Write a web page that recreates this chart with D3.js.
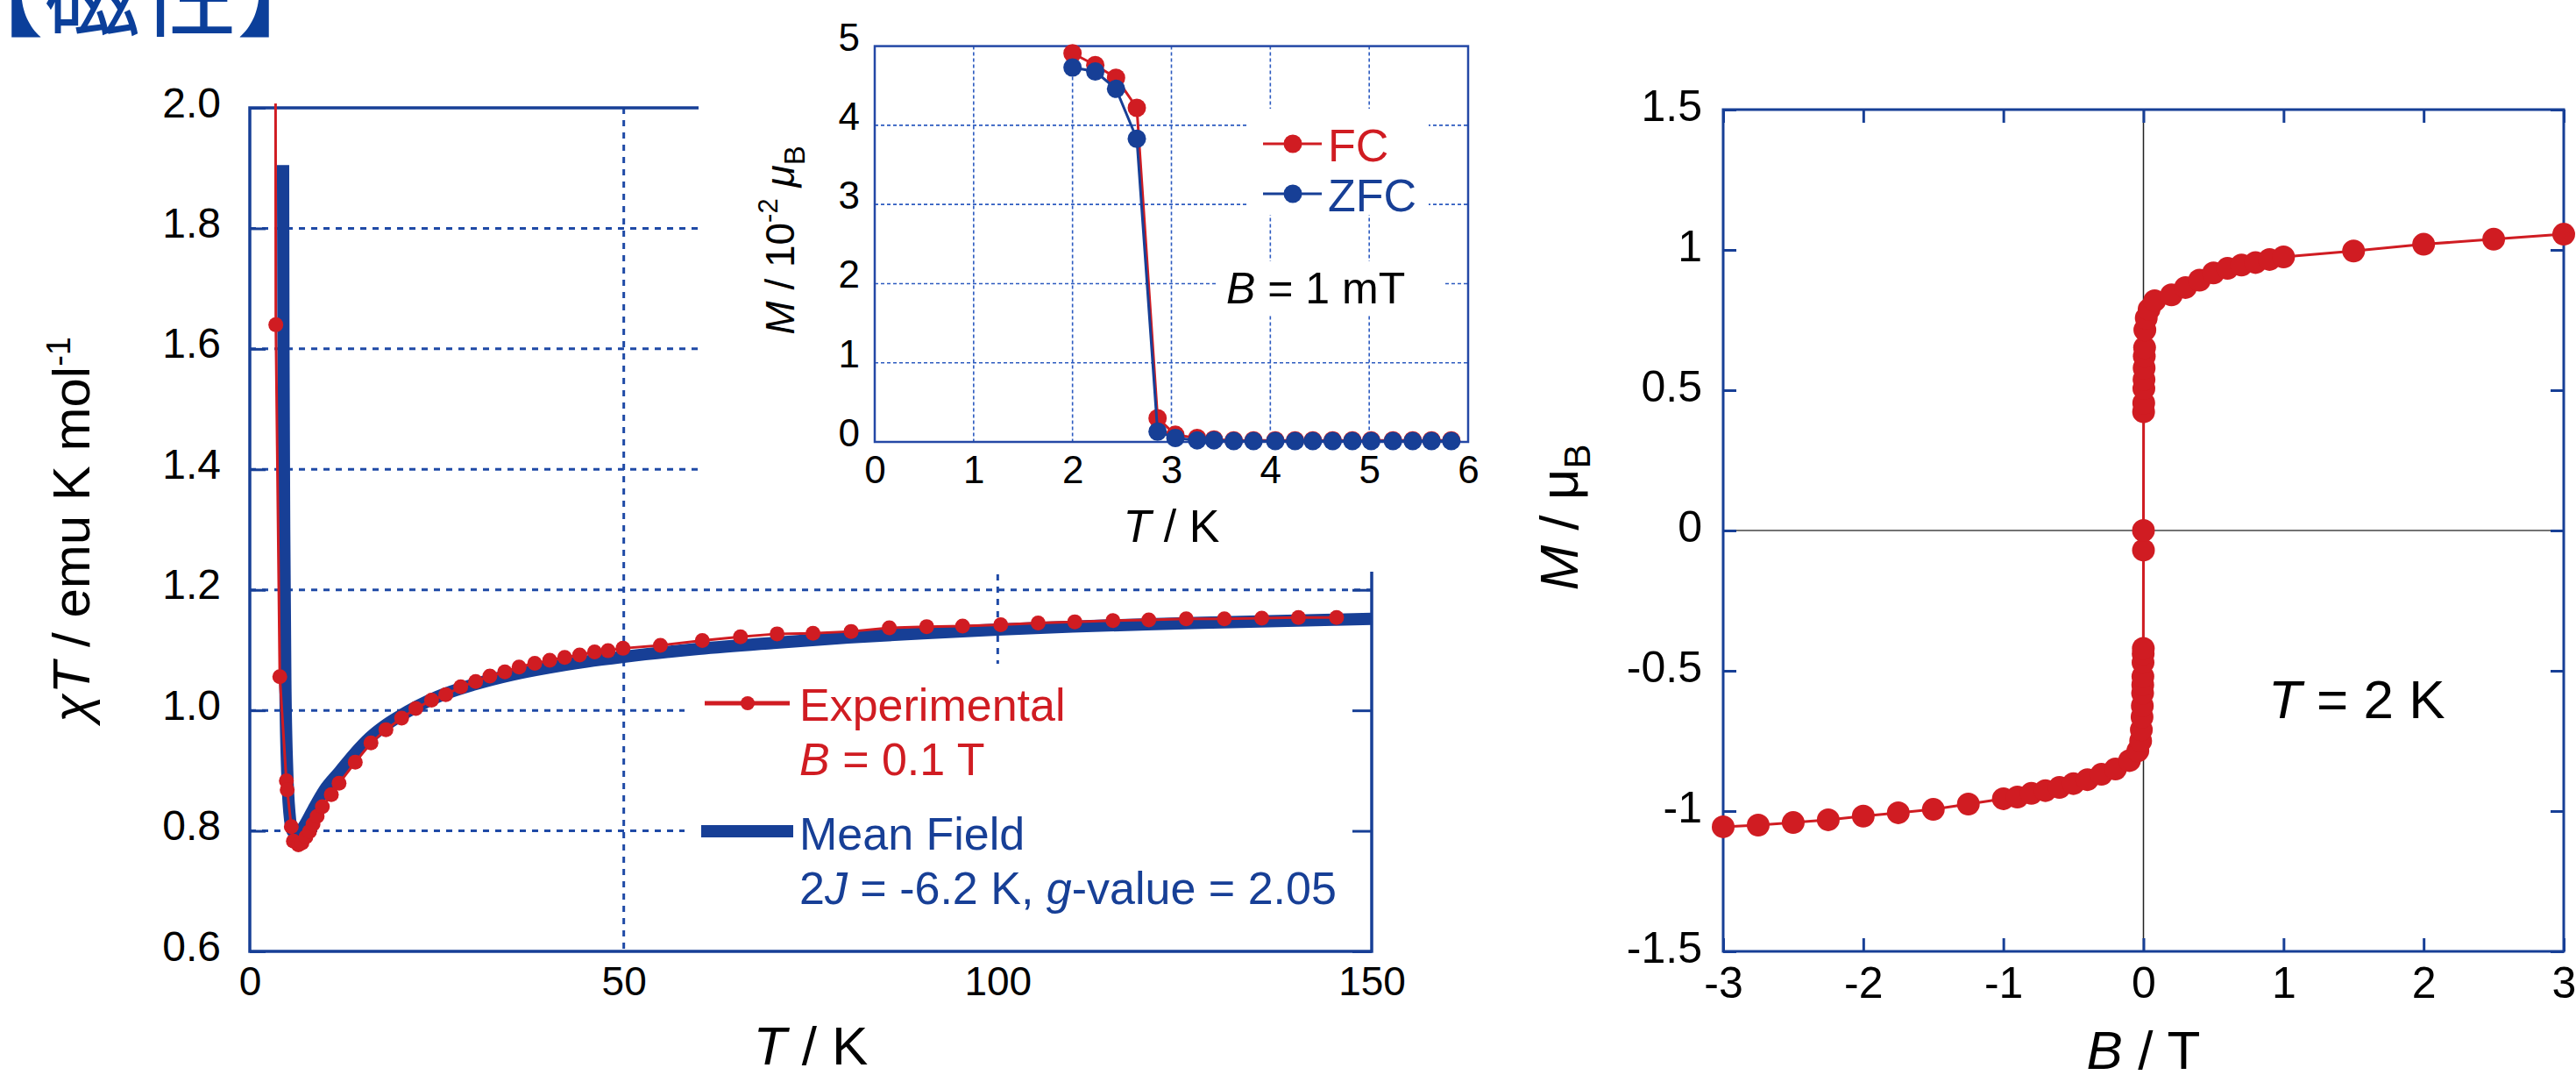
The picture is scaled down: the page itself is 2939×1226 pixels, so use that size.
<!DOCTYPE html>
<html>
<head>
<meta charset="utf-8">
<script src="https://cdn.jsdelivr.net/npm/d3@7"></script>
<style>
  body { margin: 0; background: #fff; }
  text { font-family: "Liberation Sans", Arial, sans-serif; }
</style>
</head>
<body>
<div id="chart"></div>
<script>
var RED = "#d01c22", BLUE = "#173f96", GRID = "#1f4aa6";

// chi*T vs T (main panel)
var expT = [3.48, 4.01, 4.89, 5.0, 5.55, 5.83, 6.5, 6.97, 7.5, 7.98, 8.45, 9.0, 9.7, 10.9, 11.93, 14.1, 16.2, 18.2, 20.3, 22.2,
  24.3, 26.2, 28.2, 30.2, 32.1, 34.1, 36.0, 38.1, 40.1, 42.1, 44.1, 46.1, 47.9, 49.9, 54.9, 60.5, 65.6, 70.5, 75.3, 80.4,
  85.5, 90.5, 95.3, 100.4, 105.4, 110.3, 115.4, 120.2, 125.2, 130.3, 135.3, 140.2, 145.3]
var expChiT = [1.64, 1.056, 0.883, 0.868, 0.807, 0.783, 0.777, 0.78, 0.79, 0.799, 0.811, 0.824, 0.84, 0.86, 0.879, 0.914, 0.946, 0.968, 0.987, 1.003,
  1.017, 1.026, 1.039, 1.048, 1.057, 1.064, 1.072, 1.078, 1.083, 1.088, 1.092, 1.097, 1.099, 1.103, 1.108, 1.116, 1.122, 1.127, 1.128, 1.131,
  1.137, 1.139, 1.140, 1.142, 1.145, 1.147, 1.149, 1.150, 1.152, 1.152, 1.153, 1.154, 1.154]
// line starts above the frame (clipped)
var expLeadT = [3.3], expLeadChiT = [3.4]

var fitT = [4.45, 4.5, 4.6, 4.75, 5.0, 5.3, 5.7, 6.2, 6.8, 7.5, 8.5, 10, 12, 14, 16, 18, 20, 25, 30, 35, 40, 45, 50,
  60, 70, 80, 90, 100, 110, 120, 130, 140, 150]
var fitChiT = [1.905, 1.6, 1.3, 1.05, 0.9, 0.83, 0.80, 0.795, 0.80, 0.813, 0.836, 0.868, 0.898, 0.928, 0.954, 0.974, 0.99, 1.022, 1.043, 1.059, 1.071, 1.081, 1.089,
  1.102, 1.112, 1.121, 1.128, 1.134, 1.139, 1.143, 1.146, 1.149, 1.152]

var mainYTicks = [0.6, 0.8, 1.0, 1.2, 1.4, 1.6, 1.8, 2.0]
var mainXTicks = [0, 50, 100, 150]

// FC / ZFC inset
var insetT = [2.0, 2.23, 2.44, 2.65, 2.86, 3.04, 3.26, 3.43, 3.63, 3.83, 4.05, 4.25, 4.43, 4.63, 4.83, 5.02, 5.24, 5.44, 5.63, 5.83]
var fcM = [4.91, 4.76, 4.6, 4.22, 0.30, 0.09, 0.05, 0.03, 0.02, 0.02, 0.02, 0.02, 0.02, 0.02, 0.02, 0.02, 0.02, 0.02, 0.02, 0.02]
var zfcM = [4.73, 4.68, 4.46, 3.83, 0.13, 0.05, 0.02, 0.02, 0.01, 0.01, 0.01, 0.01, 0.01, 0.01, 0.01, 0.01, 0.01, 0.01, 0.01, 0.01]
var insetXTicks = [0, 1, 2, 3, 4, 5, 6]
var insetYTicks = [0, 1, 2, 3, 4, 5]

// M vs B at 2 K
var fieldB = [-3, -2.75, -2.5, -2.25, -2, -1.75, -1.5, -1.25, -1, -0.9, -0.8, -0.7, -0.6, -0.5, -0.4, -0.3, -0.2, -0.1,
  -0.04, -0.02, -0.015, -0.01, -0.008, -0.006, -0.005, -0.004, -0.003, -0.002, -0.001, 0, 0,
  0.001, 0.002, 0.003, 0.004, 0.005, 0.006, 0.008, 0.01, 0.02, 0.04, 0.08, 0.2, 0.3, 0.4, 0.5, 0.6, 0.7, 0.8, 0.9, 1.0, 1.5, 2, 2.5, 3]
var magM = [-1.056, -1.05, -1.041, -1.031, -1.018, -1.006, -0.994, -0.975, -0.956, -0.95, -0.937, -0.927, -0.916, -0.902, -0.888, -0.869, -0.85, -0.82,
  -0.785, -0.75, -0.71, -0.665, -0.625, -0.58, -0.55, -0.52, -0.47, -0.44, -0.42, -0.07, 0.0,
  0.423, 0.454, 0.506, 0.538, 0.579, 0.621, 0.652, 0.715, 0.757, 0.788, 0.819, 0.84, 0.866, 0.892, 0.918, 0.934, 0.946, 0.955, 0.966, 0.975, 0.996, 1.02, 1.038, 1.056]
var rightXTicks = [-3, -2, -1, 0, 1, 2, 3]
var rightYTicks = [-1.5, -1, -0.5, 0, 0.5, 1, 1.5]

const svg = d3.select("#chart").append("svg")
  .attr("width", 2939)
  .attr("height", 1226)

function zip(a, b) { return a.map(function(v, i) { return [v, b[i]] }) }

// styling for d3 axes
function styleAxis(g, size) {
  g.attr("font-family", null).attr("font-size", null)
  g.select(".domain").remove()
  g.selectAll(".tick text").style("font-size", size + "px").attr("fill", "#000")
  g.selectAll(".tick line").attr("stroke", BLUE).attr("stroke-width", 3)
}

// ---------------- main panel ----------------
var x = d3.scaleLinear().domain([0, 150]).range([285, 1565])
var y = d3.scaleLinear().domain([0.6, 2.0]).range([1085, 123])

// gridlines
svg.append("g").selectAll("line")
  .data(mainYTicks.slice(1, -1))
  .enter().append("line")
  .attr("x1", x(0)).attr("x2", x(150))
  .attr("y1", function(d) { return y(d) }).attr("y2", function(d) { return y(d) })
  .attr("stroke", GRID).attr("stroke-width", 3).attr("stroke-dasharray", "7,7")

svg.append("g").selectAll("line")
  .data([50, 100])
  .enter().append("line")
  .attr("x1", function(d) { return x(d) }).attr("x2", function(d) { return x(d) })
  .attr("y1", y(2.0)).attr("y2", y(0.6))
  .attr("stroke", GRID).attr("stroke-width", 3).attr("stroke-dasharray", "7,7")

// white box behind the legend
svg.append("rect").attr("x", 781).attr("y", 757).attr("width", x(150) - 781).attr("height", y(0.6) - 757).attr("fill", "#fff")

svg.append("g")
  .attr("transform", "translate(" + x(0) + ",0)")
  .call(d3.axisLeft(y).tickValues(mainYTicks).tickSize(-18).tickPadding(33).tickFormat(d3.format(".1f")))
  .call(styleAxis, 48)
  .selectAll(".tick text").attr("dy", "0.21em")

svg.append("g")
  .attr("transform", "translate(" + x(150) + ",0)")
  .call(d3.axisRight(y).tickValues(mainYTicks).tickSize(-22).tickFormat(""))
  .call(styleAxis, 48)

svg.append("g")
  .attr("transform", "translate(0," + y(0.6) + ")")
  .call(d3.axisBottom(x).tickValues(mainXTicks).tickSize(0).tickPadding(17))
  .call(styleAxis, 46)

// frame
svg.append("path")
  .attr("d", "M" + x(0) + "," + y(2.0) + "V" + y(0.6) + "H" + x(150) + "V" + y(2.0) + "Z")
  .attr("fill", "none").attr("stroke", BLUE).attr("stroke-width", 3.5)

svg.append("clipPath").attr("id", "clipMain")
  .append("rect").attr("x", x(0)).attr("y", y(2.0) - 5).attr("width", x(150) - x(0) + 10).attr("height", y(0.6) - y(2.0) + 5)

var plotMain = svg.append("g").attr("clip-path", "url(#clipMain)")

var lineMain = d3.line().x(function(d) { return x(d[0]) }).y(function(d) { return y(d[1]) })

plotMain.append("path")
  .datum(zip(fitT, fitChiT))
  .attr("d", d3.line().curve(d3.curveMonotoneX).x(function(d) { return x(d[0]) }).y(function(d) { return y(d[1]) }))
  .attr("fill", "none").attr("stroke", BLUE).attr("stroke-width", 14)

plotMain.append("path")
  .datum(zip(expLeadT, expLeadChiT).concat(zip(expT, expChiT)))
  .attr("d", lineMain)
  .attr("fill", "none").attr("stroke", RED).attr("stroke-width", 3)

plotMain.selectAll("circle")
  .data(zip(expT, expChiT))
  .enter().append("circle")
  .attr("cx", function(d) { return x(d[0]) })
  .attr("cy", function(d) { return y(d[1]) })
  .attr("r", 8.5)
  .attr("fill", RED)

// axis titles
svg.append("text")
  .attr("x", (x(0) + x(150)) / 2).attr("y", 1214)
  .attr("text-anchor", "middle").style("font-size", "62px")
  .html('<tspan font-style="italic">T</tspan> / K')

svg.append("text")
  .attr("transform", "translate(102," + (y(0.6) + y(2.0)) / 2 + ") rotate(-90)")
  .attr("text-anchor", "middle").style("font-size", "60px")
  .html('<tspan font-style="italic">χT</tspan> / emu K mol<tspan dy="-22" font-size="38">-1</tspan>')

// legend
var leg = svg.append("g")
leg.append("line").attr("x1", 804).attr("x2", 901).attr("y1", 802).attr("y2", 802).attr("stroke", RED).attr("stroke-width", 5)
leg.append("circle").attr("cx", 853).attr("cy", 802).attr("r", 8).attr("fill", RED)
leg.append("line").attr("x1", 800).attr("x2", 905).attr("y1", 948).attr("y2", 948).attr("stroke", BLUE).attr("stroke-width", 14)
leg.append("text").attr("x", 912).attr("y", 822).attr("fill", RED).style("font-size", "52px").text("Experimental")
leg.append("text").attr("x", 912).attr("y", 884).attr("fill", RED).style("font-size", "52px")
  .html('<tspan font-style="italic">B</tspan> = 0.1 T')
leg.append("text").attr("x", 912).attr("y", 969).attr("fill", BLUE).style("font-size", "52px").text("Mean Field")
leg.append("text").attr("x", 912).attr("y", 1031).attr("fill", BLUE).style("font-size", "52px")
  .html('2<tspan font-style="italic">J</tspan> = -6.2 K, <tspan font-style="italic">g</tspan>-value = 2.05')

// ---------------- inset ----------------
svg.append("rect").attr("x", 797).attr("y", 0).attr("width", 950).attr("height", 652).attr("fill", "#fff")

var xi = d3.scaleLinear().domain([0, 6]).range([998, 1675])
var yi = d3.scaleLinear().domain([0, 5]).range([504, 52.6])

svg.append("g").selectAll("line")
  .data(insetXTicks.slice(1, -1))
  .enter().append("line")
  .attr("x1", function(d) { return xi(d) }).attr("x2", function(d) { return xi(d) })
  .attr("y1", yi(5)).attr("y2", yi(0))
  .attr("stroke", "#2d5bc0").attr("stroke-width", 1.6).attr("stroke-dasharray", "4,3")

svg.append("g").selectAll("line")
  .data(insetYTicks.slice(1, -1))
  .enter().append("line")
  .attr("x1", xi(0)).attr("x2", xi(6))
  .attr("y1", function(d) { return yi(d) }).attr("y2", function(d) { return yi(d) })
  .attr("stroke", "#2d5bc0").attr("stroke-width", 1.6).attr("stroke-dasharray", "4,3")

// white boxes behind the inset legend and label
svg.append("rect").attr("x", 1423).attr("y", 124).attr("width", 207).attr("height", 121).attr("fill", "#fff")
svg.append("rect").attr("x", 1388).attr("y", 298).attr("width", 259).attr("height", 62).attr("fill", "#fff")

svg.append("rect")
  .attr("x", xi(0)).attr("y", yi(5)).attr("width", xi(6) - xi(0)).attr("height", yi(0) - yi(5))
  .attr("fill", "none").attr("stroke", "#2448a6").attr("stroke-width", 2.5)

svg.append("g")
  .attr("transform", "translate(" + xi(0) + ",0)")
  .call(d3.axisLeft(yi).tickValues(insetYTicks).tickSize(0).tickPadding(17).tickFormat(d3.format("d")))
  .call(styleAxis, 44)
  .selectAll(".tick text").attr("dy", "0.1em")

svg.append("g")
  .attr("transform", "translate(0," + yi(0) + ")")
  .call(d3.axisBottom(xi).tickValues(insetXTicks).tickSize(0).tickPadding(16).tickFormat(d3.format("d")))
  .call(styleAxis, 44)

var lineInset = d3.line().x(function(d) { return xi(d[0]) }).y(function(d) { return yi(d[1]) })

var series = [{name: "FC", m: fcM, color: RED}, {name: "ZFC", m: zfcM, color: BLUE}]
series.forEach(function(s) {
  var pts = zip(insetT, s.m)
  svg.append("path").datum(pts).attr("d", lineInset)
    .attr("fill", "none").attr("stroke", s.color).attr("stroke-width", 3)
  svg.append("g").selectAll("circle")
    .data(pts)
    .enter().append("circle")
    .attr("cx", function(d) { return xi(d[0]) })
    .attr("cy", function(d) { return yi(d[1]) })
    .attr("r", 10.5)
    .attr("fill", s.color)
})

series.forEach(function(s, i) {
  var ly = 164 + i * 57
  svg.append("line").attr("x1", 1441).attr("x2", 1508).attr("y1", ly).attr("y2", ly).attr("stroke", s.color).attr("stroke-width", 3)
  svg.append("circle").attr("cx", 1475).attr("cy", ly).attr("r", 10.5).attr("fill", s.color)
  svg.append("text").attr("x", 1515).attr("y", ly + 20).attr("fill", s.color).style("font-size", "52px").text(s.name)
})

svg.append("text").attr("x", 1399).attr("y", 346).style("font-size", "50px")
  .html('<tspan font-style="italic">B</tspan> = 1 mT')

svg.append("text")
  .attr("x", (xi(0) + xi(6)) / 2).attr("y", 618)
  .attr("text-anchor", "middle").style("font-size", "52px")
  .html('<tspan font-style="italic">T</tspan> / K')

svg.append("text")
  .attr("transform", "translate(906,274) rotate(-90)")
  .attr("text-anchor", "middle").style("font-size", "46px")
  .html('<tspan font-style="italic">M</tspan> / 10<tspan dy="-19" font-size="31">-2</tspan><tspan dy="19"> </tspan><tspan font-style="italic">μ</tspan><tspan dy="12" font-size="33">B</tspan>')

// ---------------- M vs B panel ----------------
var xr = d3.scaleLinear().domain([-3, 3]).range([1966, 2925])
var yr = d3.scaleLinear().domain([-1.5, 1.5]).range([1085, 125])

svg.append("line").attr("x1", xr(-3)).attr("x2", xr(3)).attr("y1", yr(0)).attr("y2", yr(0)).attr("stroke", "#444").attr("stroke-width", 1.5)
svg.append("line").attr("x1", xr(0)).attr("x2", xr(0)).attr("y1", yr(1.5)).attr("y2", yr(-1.5)).attr("stroke", "#222").attr("stroke-width", 1.5)

svg.append("g")
  .attr("transform", "translate(" + xr(-3) + ",0)")
  .call(d3.axisLeft(yr).tickValues(rightYTicks).tickSize(-15).tickPadding(24).tickFormat(function(d) { return String(d) }))
  .call(styleAxis, 50)
  .selectAll(".tick text").attr("dy", "0.24em")

svg.append("g")
  .attr("transform", "translate(" + xr(3) + ",0)")
  .call(d3.axisRight(yr).tickValues(rightYTicks).tickSize(-15).tickFormat(""))
  .call(styleAxis, 50)

svg.append("g")
  .attr("transform", "translate(0," + yr(-1.5) + ")")
  .call(d3.axisBottom(xr).tickValues(rightXTicks).tickSize(-15).tickPadding(17).tickFormat(function(d) { return String(d) }))
  .call(styleAxis, 50)

svg.append("g")
  .attr("transform", "translate(0," + yr(1.5) + ")")
  .call(d3.axisTop(xr).tickValues(rightXTicks).tickSize(-15).tickFormat(""))
  .call(styleAxis, 50)

svg.append("rect")
  .attr("x", xr(-3)).attr("y", yr(1.5)).attr("width", xr(3) - xr(-3)).attr("height", yr(-1.5) - yr(1.5))
  .attr("fill", "none").attr("stroke", BLUE).attr("stroke-width", 3)

var magPts = zip(fieldB, magM)
svg.append("path").datum(magPts)
  .attr("d", d3.line().x(function(d) { return xr(d[0]) }).y(function(d) { return yr(d[1]) }))
  .attr("fill", "none").attr("stroke", RED).attr("stroke-width", 3)

svg.append("g").selectAll("circle")
  .data(magPts)
  .enter().append("circle")
  .attr("cx", function(d) { return xr(d[0]) })
  .attr("cy", function(d) { return yr(d[1]) })
  .attr("r", 13)
  .attr("fill", RED)

svg.append("text").attr("x", 2588).attr("y", 819).style("font-size", "62px")
  .html('<tspan font-style="italic">T</tspan> = 2 K')

svg.append("text")
  .attr("x", xr(0)).attr("y", 1219)
  .attr("text-anchor", "middle").style("font-size", "62px")
  .html('<tspan font-style="italic">B</tspan> / T')

svg.append("text")
  .attr("transform", "translate(1800,590) rotate(-90)")
  .attr("text-anchor", "middle").style("font-size", "62px")
  .html('<tspan font-style="italic">M</tspan> / μ<tspan dy="14" font-size="42">B</tspan>')

// heading, cut off by the top edge
svg.append("text")
  .attr("x", -60).attr("y", 33)
  .attr("fill", "#0b3f9a")
  .style("font-family", '"Noto Sans CJK JP", sans-serif')
  .style("font-size", "110px")
  .text("【磁性】")
</script>
</body>
</html>
